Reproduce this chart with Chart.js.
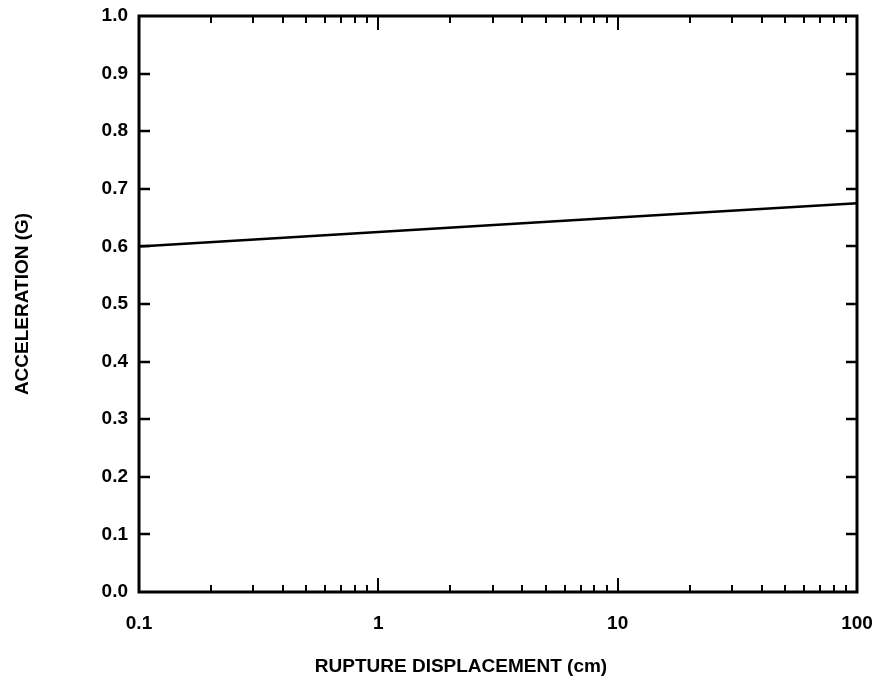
<!DOCTYPE html>
<html>
<head>
<meta charset="utf-8">
<script src="https://cdn.jsdelivr.net/npm/chart.js@4/dist/chart.umd.min.js"></script>
<style>
  html, body { margin: 0; padding: 0; background: #fff; }
  #wrap { width: 875px; height: 682px; }
</style>
</head>
<body>
<div id="wrap"><canvas id="chart" width="875" height="682"></canvas></div>
<script>
// values
const displacement = [0.1, 1, 10, 100];            // cm
const acceleration = [0.6, 0.625, 0.65, 0.675];    // g
const xTickValues = [0.1, 1, 10, 100];
const xTickLabels = ["0.1", "1", "10", "100"];
const yTickValues = [0, 0.1, 0.2, 0.3, 0.4, 0.5, 0.6, 0.7, 0.8, 0.9, 1.0];
const xTitle = "RUPTURE DISPLACEMENT (cm)";

const FONT = "'Liberation Sans', Arial, Helvetica, sans-serif";

// frame, inward tick marks on all four sides, and the x title
// (which sits left of centre in the original)
const frameTicks = {
  id: "frameTicks",
  afterDraw(chart) {
    const { ctx, chartArea: a, scales } = chart;
    const xs = scales.x, ys = scales.y;
    ctx.save();
    ctx.strokeStyle = "#000";
    ctx.lineCap = "butt";

    ctx.lineWidth = 2.5;
    ctx.beginPath();
    yTickValues.forEach((v) => {
      if (v <= 0 || v >= 1) return;
      const py = Math.round(ys.getPixelForValue(v));
      ctx.moveTo(a.left, py); ctx.lineTo(a.left + 11, py);
      ctx.moveTo(a.right, py); ctx.lineTo(a.right - 11, py);
    });
    ctx.stroke();

    ctx.lineWidth = 2;
    ctx.beginPath();
    [0.1, 1, 10].forEach((d) => {
      for (let k = 1; k <= 9; k++) {
        const v = k * d;
        if (v <= 0.1) continue;
        const px = Math.round(xs.getPixelForValue(v));
        const len = k === 1 ? 14 : 7;
        ctx.moveTo(px, a.top); ctx.lineTo(px, a.top + len);
        ctx.moveTo(px, a.bottom); ctx.lineTo(px, a.bottom - len);
      }
    });
    ctx.stroke();

    ctx.lineWidth = 3;
    ctx.strokeRect(a.left, a.top, a.right - a.left, a.bottom - a.top);

    ctx.fillStyle = "#000";
    ctx.font = "bold 19px " + FONT;
    ctx.textAlign = "center";
    ctx.textBaseline = "middle";
    ctx.fillText(xTitle, (a.left + a.right) / 2 - 37, 667);
    ctx.restore();
  }
};

new Chart(document.getElementById("chart"), {
  type: "line",
  data: {
    datasets: [{
      data: displacement.map((x, i) => ({ x, y: acceleration[i] })),
      borderColor: "#000",
      borderWidth: 2.5,
      pointRadius: 0,
      fill: false,
      tension: 0
    }]
  },
  options: {
    responsive: false,
    animation: false,
    layout: { padding: { top: 16, right: 0, left: 0, bottom: 0 } },
    plugins: { legend: { display: false }, tooltip: { enabled: false } },
    scales: {
      x: {
        type: "logarithmic",
        min: 0.1,
        max: 100,
        grid: { display: false, drawTicks: false },
        border: { display: false },
        afterBuildTicks(scale) {
          scale.ticks = xTickValues.map((v) => ({ value: v }));
        },
        afterFit(scale) {
          scale.height = 90;
          scale.paddingRight = 18;
        },
        ticks: {
          autoSkip: false,
          maxRotation: 0,
          padding: 20,
          color: "#000",
          font: { family: FONT, size: 19, weight: "bold" },
          callback: (v) => xTickLabels[xTickValues.indexOf(v)] ?? ""
        }
      },
      y: {
        min: 0,
        max: 1,
        grid: { display: false, drawTicks: false },
        border: { display: false },
        afterBuildTicks(scale) {
          scale.ticks = yTickValues.map((v) => ({ value: v }));
        },
        afterFit(scale) {
          scale.width = 139;
          scale.paddingTop = 0;
        },
        ticks: {
          padding: 11,
          color: "#000",
          font: { family: FONT, size: 19, weight: "bold" },
          callback: (v) => v.toFixed(1)
        },
        title: {
          display: true,
          text: "ACCELERATION (G)",
          color: "#000",
          font: { family: FONT, size: 19, weight: "bold" },
          padding: { top: 11, bottom: 0 }
        }
      }
    }
  },
  plugins: [frameTicks]
});
</script>
</body>
</html>
